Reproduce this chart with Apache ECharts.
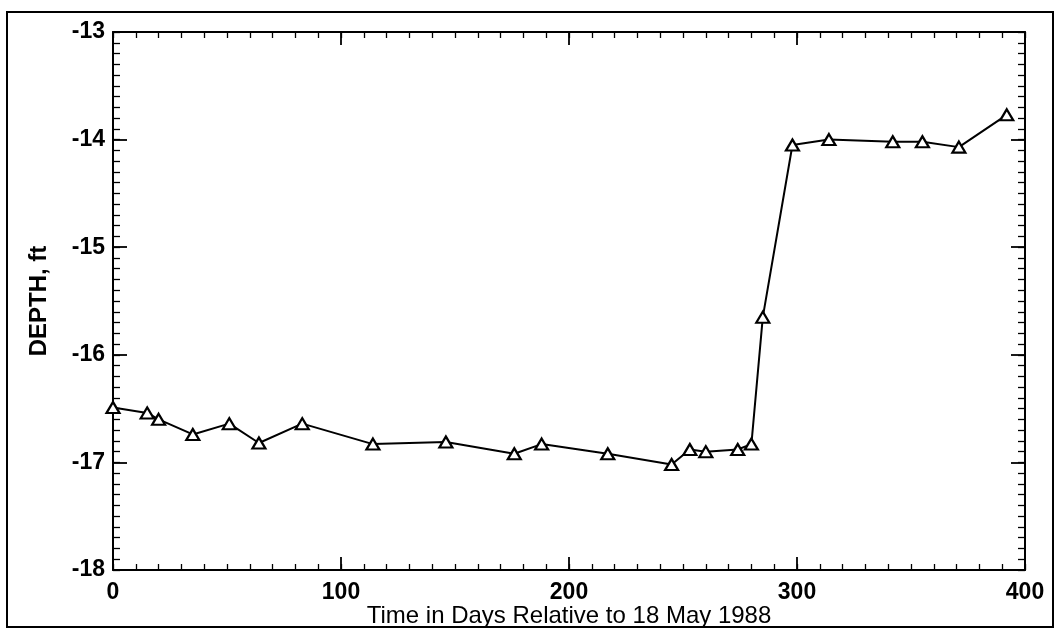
<!DOCTYPE html>
<html>
<head>
<meta charset="utf-8">
<script src="https://cdn.jsdelivr.net/npm/echarts@6/dist/echarts.min.js"></script>
<style>
  html, body { margin: 0; padding: 0; background: #fff; }
  #chart { width: 1056px; height: 634px; }
</style>
</head>
<body>
<div id="chart"></div>
<script>
// dni od 18 maja 1988 i głębokość (ft)
const days = [0, 15, 20, 35, 51, 64, 83, 114, 146, 176, 188, 217, 245, 253, 260, 274, 280, 285, 298, 314, 342, 355, 371, 392];
const depth = [-16.49, -16.54, -16.6, -16.74, -16.64, -16.82, -16.64, -16.83, -16.81, -16.92, -16.83, -16.92, -17.02, -16.88, -16.9, -16.88, -16.83, -15.65, -14.05, -14.0, -14.02, -14.02, -14.07, -13.77];

const xTitle = 'Time in Days Relative to 18 May 1988';
const yTitle = 'DEPTH, ft';

const font = '"Liberation Sans", Arial, sans-serif';
const chart = echarts.init(document.getElementById('chart'));

// oś z kreskami do środka; minor = osobna oś z gęstszym interwałem, bez linii
function axis(pos, min, max, interval, len, extra) {
  const major = len > 10;
  return Object.assign({
    type: 'value', position: pos, offset: 0, min: min, max: max, interval: interval,
    axisLine: { show: major, onZero: false, lineStyle: { color: '#000', width: 2 } },
    axisTick: { show: true, inside: true, length: len, lineStyle: { color: '#000', width: major ? 1.8 : 1.3 } },
    axisLabel: { show: false },
    splitLine: { show: false }
  }, extra || {});
}

const labelStyle = { show: true, color: '#000', fontFamily: font, fontSize: 23, fontWeight: 'bold' };

chart.setOption({
  animation: false,
  backgroundColor: '#fff',
  grid: { left: 113, right: 31, top: 32, bottom: 64, containLabel: false, outerBoundsMode: 'none' },
  graphic: [{
    type: 'rect',
    shape: { x: 7, y: 12, width: 1046, height: 615 },
    style: { fill: 'none', stroke: '#000', lineWidth: 2 },
    silent: true
  }],
  xAxis: [
    axis('bottom', 0, 400, 100, 13, {
      name: xTitle, nameLocation: 'middle', nameGap: 34, nameMoveOverlap: false,
      nameTextStyle: { color: '#000', fontFamily: font, fontSize: 24 },
      axisLabel: Object.assign({ margin: 11 }, labelStyle)
    }),
    axis('bottom', 0, 400, 10, 6),
    axis('top', 0, 400, 100, 13),
    axis('top', 0, 400, 10, 6)
  ],
  yAxis: [
    axis('left', -18, -13, 1, 14, {
      name: yTitle, nameLocation: 'middle', nameGap: 62, nameRotate: 90, nameMoveOverlap: false,
      nameTextStyle: { color: '#000', fontFamily: font, fontSize: 24, fontWeight: 'bold' },
      axisLabel: Object.assign({ margin: 8 }, labelStyle)
    }),
    axis('left', -18, -13, 0.1, 7),
    axis('right', -18, -13, 1, 14),
    axis('right', -18, -13, 0.1, 7)
  ],
  series: [{
    type: 'line',
    xAxisIndex: 0,
    yAxisIndex: 0,
    data: days.map((d, i) => [d, depth[i]]),
    symbol: 'triangle',
    symbolSize: [13, 11],
    showAllSymbol: true,
    itemStyle: { color: '#fff', borderColor: '#000', borderWidth: 2.2 },
    lineStyle: { color: '#000', width: 2 },
    z: 3
  }]
});
</script>
</body>
</html>
